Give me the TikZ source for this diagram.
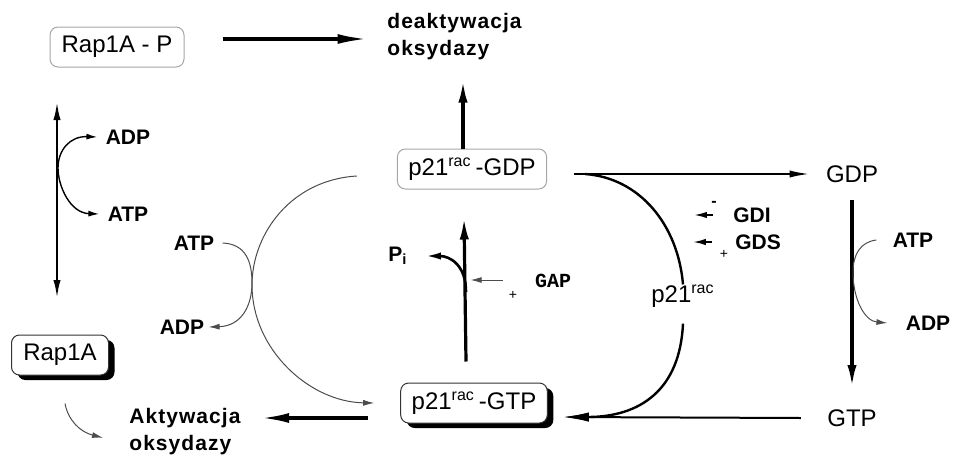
\documentclass[tikz,border=0pt]{standalone}
\usepackage{fontspec}
\setmainfont{Liberation Sans}
\setmonofont{Liberation Mono}
\usetikzlibrary{arrows.meta,shadows}

\tikzset{
  box/.style={draw=gray!70, line width=0.5pt, rounded corners=4pt, fill=white,
    minimum height=20pt, inner xsep=5.5pt, font=\fontsize{12}{14}\selectfont},
  sbox/.style={box, draw=black!80,
    drop shadow={shadow xshift=3pt, shadow yshift=-2.5pt, fill=black, opacity=1}},
  lbl/.style={font=\bfseries\fontsize{10.5}{13.5}\selectfont, inner sep=0pt},
  txt/.style={font=\fontsize{12}{14}\selectfont, inner sep=0pt},
  bigarrow/.style={line width=1.6pt, -{Latex[length=11pt,width=4.6pt]}},
  midarrow/.style={line width=1pt, -{Latex[length=10pt,width=3.6pt]}},
  finearrow/.style={line width=0.5pt, draw=black!70, -{Latex[length=5.5pt,width=3pt]}},
}

\begin{document}
\begin{tikzpicture}[x=0.5pt, y=-0.5pt]
  \useasboundingbox (0,0) rectangle (953,461);

  % forms of the proteins
  \node[box, minimum width=67pt] (rapP) at (117,47) {Rap1A - P};
  \node[sbox, minimum width=48.5pt] (rap) at (60,355) {Rap1A};
  \node[box, minimum width=72.5pt] (gdp) at (472,169) {p21\textsuperscript{rac}\,-GDP};
  \node[sbox, minimum width=72.5pt] (gtp) at (474,403) {p21\textsuperscript{rac}\,-GTP};

  % free nucleotides and subunit
  \node[txt] (gdpfree) at (852,174) {GDP};
  \node[txt] (gtpfree) at (852,418) {GTP};
  \node[txt] (rac) at (683,296) {p21\textsuperscript{rac}};

  % outcomes
  \node[lbl, align=left, anchor=north west] (deakt) at (387,13)
    {\addfontfeatures{LetterSpace=5}deaktywacja\\\addfontfeatures{LetterSpace=5}oksydazy};
  \node[lbl, align=left, anchor=north west] (akt) at (129,408)
    {\addfontfeatures{LetterSpace=5}Aktywacja\\\addfontfeatures{LetterSpace=5}oksydazy};

  % small labels
  \node[lbl] (adp1) at (128,137) {ADP};
  \node[lbl] (atp1) at (128,214) {ATP};
  \node[lbl] (atp2) at (194,243) {ATP};
  \node[lbl] (adp2) at (182,327) {ADP};
  \node[lbl] (atp3) at (913,240) {ATP};
  \node[lbl] (adp3) at (928,323) {ADP};
  \node[lbl] (pi) at (398,256) {P\textsubscript{i}};
  \node[lbl] (gdi) at (752,215) {GDI};
  \node[lbl] (gds) at (758,242) {GDS};
  \node[font=\ttfamily\bfseries\fontsize{10}{12}\selectfont, inner sep=0pt] (gap) at (553,281) {GAP};
  \node[font=\fontsize{7}{8}\selectfont, inner sep=0pt] (gapplus) at (513,295) {+};
  \node[font=\fontsize{7}{8}\selectfont, inner sep=0pt] (gdsplus) at (724,254) {+};
  \node[font=\bfseries\fontsize{8}{8}\selectfont, inner sep=0pt] (gdiminus) at (714,204) {-};

  \coordinate (phosTop) at (57,102);
  \coordinate (phosBot) at (57,298);

  % main transitions
  \draw[bigarrow, -{Latex[length=15pt,width=5pt]}] ([xshift=19pt,yshift=4pt]rapP.east) -- ++(145,0);
  \draw[bigarrow] ([xshift=-4.5pt]gdp.north) -- ++(0,-68);
  \draw[bigarrow, -{Latex[length=14pt,width=5pt]}] ([shift={(-16pt,-7.5pt)}]gtp.west) -- ++(-107,0);
  \draw[bigarrow] ([xshift=-4pt,yshift=10.5pt]gtp.north) -- ([xshift=-4pt,yshift=-14pt]gdp.south);
  \draw[bigarrow] ([yshift=-13pt]gdpfree.center) -- ([yshift=15.5pt]gtpfree.center);
  \draw[line width=1pt, {Latex[length=9pt,width=3.6pt]}-{Latex[length=9pt,width=3.6pt]}]
    (phosTop) -- (phosBot);

  \draw[midarrow] ([xshift=13.5pt,yshift=-2.5pt]gdp.east) -- ([xshift=-8pt]gdpfree.west);
  \draw[midarrow, -{Latex[length=13pt,width=4.5pt]}] ([xshift=-13pt]gtpfree.west) -- ([xshift=7.5pt,yshift=-7pt]gtp.east);

  % p21rac leaving and coming back
  \draw[line width=1.2pt] (585,174) .. controls (640,178) and (678,225) .. (rac.north);
  \draw[line width=1.2pt, -{Latex[length=13pt,width=4.5pt]}] ([yshift=-8pt]rac.south) .. controls (680,390) and (640,417)
    .. ([xshift=7.5pt,yshift=-7pt]gtp.east);

  % hydrolysis branch
  \draw[line width=1.3pt, -{Latex[length=8pt,width=3.6pt]}]
    (466,292) .. controls (466,265) and (450,256) .. ([xshift=8.5pt]pi.east);

  % regulators
  \draw[finearrow] ([xshift=-16pt,yshift=0.5pt]gap.west) -- ++(-32,0);
  \draw[line width=0.9pt, -{Latex[length=6.5pt,width=3.2pt]}] ([xshift=-10pt]gdi.west) -- ++(-19,0);
  \draw[line width=0.9pt, -{Latex[length=6.5pt,width=3.2pt]}] ([xshift=-11.5pt]gds.west) -- ++(-19,0);

  % nucleotide side reactions
  \draw[line width=0.7pt, {Latex[length=5.5pt,width=3pt]}-{Latex[length=5.5pt,width=3pt]}]
    ([xshift=-4pt]adp1.west) .. controls (70,136) and (58,150) .. (58,168)
    .. controls (58,186) and (70,213) .. ([xshift=-4pt]atp1.west);
  \draw[finearrow] ([xshift=4pt]atp2.east) .. controls (246,244) and (252,262) .. (252,283)
    .. controls (252,305) and (242,326) .. ([xshift=2pt]adp2.east);
  \draw[finearrow] ([xshift=-8pt]atp3.west) .. controls (860,242) and (853,255) .. (853,272)
    .. controls (853,300) and (865,321) .. ([xshift=-9pt]adp3.west);
  \draw[finearrow] ([xshift=-20pt,yshift=-3.5pt]gdp.west) .. controls (290,180) and (252,235)
    .. (252,285) .. controls (252,350) and (310,402) .. ([xshift=-13pt]gtp.west);
  \draw[finearrow] ([xshift=2.5pt,yshift=-14pt]rap.south) .. controls (68,420) and (80,432)
    .. ([xshift=-13pt,yshift=-3pt]akt.west);
\end{tikzpicture}
\end{document}
